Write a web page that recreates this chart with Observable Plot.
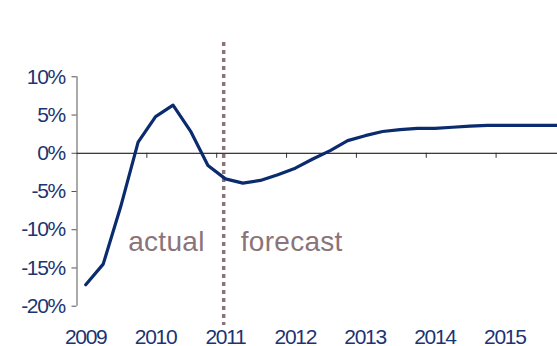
<!DOCTYPE html>
<html>
<head>
<meta charset="utf-8">
<script src="https://cdn.jsdelivr.net/npm/d3@7"></script>
<script src="https://cdn.jsdelivr.net/npm/@observablehq/plot@0.6"></script>
<style>
  html, body { margin: 0; padding: 0; background: #fff; overflow: hidden; }
  #chart svg text { letter-spacing: -1.3px; }
  #chart svg g[fill="#8b7479"] text { letter-spacing: 0.3px; }
</style>
</head>
<body>
<div id="chart"></div>
<script>
// Quarterly growth rate (%), 2009 Q1 through 2015 Q4
const growth = [
  -17.2, -14.5, -7.0, 1.45,
  4.8, 6.3, 2.9, -1.6,
  -3.35, -3.9, -3.55, -2.8,
  -1.95, -0.75, 0.35, 1.65,
  2.3, 2.85, 3.1, 3.25,
  3.25, 3.4, 3.55, 3.65,
  3.65, 3.65, 3.65, 3.65
];
const years = [2009, 2010, 2011, 2012, 2013, 2014, 2015];
const yearBounds = [2010, 2011, 2012, 2013, 2014, 2015, 2016];
const yTicks = [-20, -15, -10, -5, 0, 5, 10];
const splitYear = 2011.1;
const periodLabels = ["actual", "forecast"];

const navy = "#0a2b6d";
const labelNavy = "#1b3472";
const mauve = "#8b7479";

// each quarter sits at the middle of its slot within the year
const points = growth.map((v, i) => ({t: 2009 + (i + 0.5) / 4, v}));

const chart = Plot.plot({
  width: 557,
  height: 346,
  marginLeft: 76.5,
  marginRight: 0,
  marginTop: 42,
  marginBottom: 21,
  style: {fontFamily: "Liberation Sans, Arial, sans-serif", background: "#fff"},
  x: {type: "linear", domain: [2009, 2016], range: [76.5, 76.5 + 7 * 69.85], axis: null},
  y: {domain: [-20, 10], range: [305.7, 76.3], axis: null},
  marks: [
    // vertical axis line and its ticks
    Plot.ruleX([2009], {y1: -20, y2: 10, stroke: "#555", strokeWidth: 1}),
    Plot.ruleY(yTicks, {x1: 2009, x2: 2009, insetLeft: -5, stroke: "#555", strokeWidth: 1}),
    Plot.text(yTicks, {
      x: 2009, y: d => d, text: d => `${d}%`,
      textAnchor: "end", lineAnchor: "middle", dx: -12,
      fill: labelNavy, fontSize: 21
    }),
    // zero line with year separators
    Plot.ruleY([0], {x1: 2009, x2: 2016, stroke: "#000", strokeWidth: 1}),
    Plot.ruleX(yearBounds, {y1: 0, y2: 0, insetBottom: -5, stroke: "#333", strokeWidth: 1}),
    Plot.text(years, {
      x: d => d + 0.125, frameAnchor: "bottom", dy: 18, lineAnchor: "bottom",
      text: d => String(d), fill: labelNavy, fontSize: 21
    }),
    // boundary between actual and forecast
    Plot.ruleX([splitYear], {stroke: mauve, strokeWidth: 3.5, strokeDasharray: "4,4"}),
    Plot.text([periodLabels[0]], {
      x: splitYear, y: -12.8, dx: -19, textAnchor: "end", lineAnchor: "bottom",
      text: d => d, fill: mauve, fontSize: 28
    }),
    Plot.text([periodLabels[1]], {
      x: splitYear, y: -12.8, dx: 17, textAnchor: "start", lineAnchor: "bottom",
      text: d => d, fill: mauve, fontSize: 28
    }),
    // growth series
    Plot.line(points, {
      x: "t", y: "v", stroke: navy, strokeWidth: 3.2,
      strokeLinejoin: "round", strokeLinecap: "round"
    })
  ]
});

document.getElementById("chart").appendChild(chart);
</script>
</body>
</html>
